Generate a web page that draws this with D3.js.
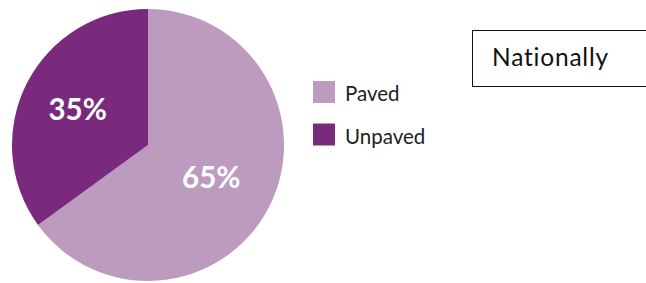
<!DOCTYPE html>
<html>
<head>
<meta charset="utf-8">
<script src="https://cdn.jsdelivr.net/npm/d3@7"></script>
<style>
  body { margin: 0; background: #fff; }
  svg { display: block; }
</style>
</head>
<body>
<div id="chart"></div>
<script>
// Data
const categories = ['Paved', 'Unpaved'];
const shares = [65, 35];
const colors = ['#bc9bbf', '#792a7d'];
const boxTitle = 'Nationally';

const width = 646, height = 283;
const cx = 148, cy = 145, radius = 136;
// label distance from centre, per slice
const labelRadius = [71, 79];

const svg = d3.select('#chart').append('svg')
    .attr('width', width)
    .attr('height', height);

const pie = d3.pie().sort(null).value(d => d.value);
const arc = d3.arc().innerRadius(0).outerRadius(radius);

const slices = pie(categories.map((c, i) => ({ name: c, value: shares[i], color: colors[i] })));

const g = svg.append('g').attr('transform', `translate(${cx},${cy})`);

g.selectAll('path')
    .data(slices)
    .enter()
    .append('path')
    .attr('d', arc)
    .attr('fill', d => d.data.color);

g.selectAll('text')
    .data(slices)
    .enter()
    .append('text')
    .attr('transform', (d, i) => {
        const [x, y] = d3.arc().innerRadius(labelRadius[i]).outerRadius(labelRadius[i]).centroid(d);
        return `translate(${x},${y})`;
    })
    .attr('text-anchor', 'middle')
    .attr('dy', '0.36em')
    .attr('fill', '#fff')
    .attr('font-family', 'Lato, sans-serif')
    .attr('font-weight', 'bold')
    .attr('font-size', 29.5)
    .text(d => d.data.value + '%');

// Legend
const legend = svg.append('g').attr('transform', 'translate(313,81)');
const item = legend.selectAll('g')
    .data(categories)
    .enter()
    .append('g')
    .attr('transform', (d, i) => `translate(0,${i * 42.5})`);

item.append('rect')
    .attr('width', 22)
    .attr('height', 22)
    .attr('fill', (d, i) => colors[i]);

item.append('text')
    .attr('x', 32)
    .attr('y', 20)
    .attr('font-family', 'Lato, sans-serif')
    .attr('font-size', 20.5)
    .attr('fill', '#222')
    .text(d => d);

// Title box
svg.append('rect')
    .attr('x', 472.5)
    .attr('y', 30.5)
    .attr('width', 180)
    .attr('height', 56)
    .attr('fill', 'none')
    .attr('stroke', '#111')
    .attr('stroke-width', 1);

svg.append('text')
    .attr('x', 492)
    .attr('y', 66)
    .attr('font-family', 'Lato, sans-serif')
    .attr('font-size', 24.5)
    .attr('letter-spacing', 0.8)
    .attr('fill', '#111')
    .text(boxTitle);
</script>
</body>
</html>
